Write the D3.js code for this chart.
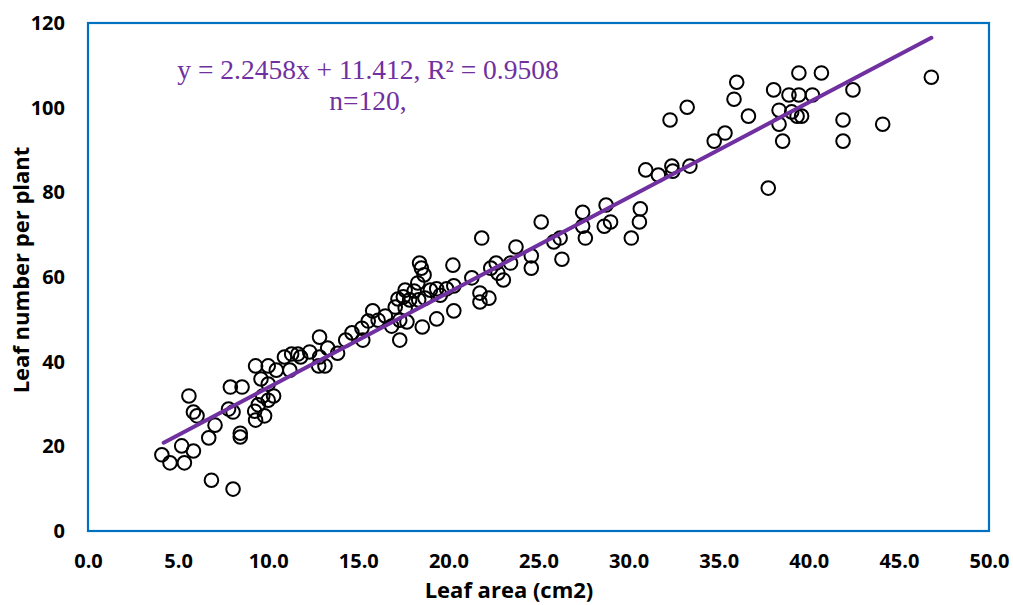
<!DOCTYPE html>
<html>
<head>
<meta charset="utf-8">
<script src="https://cdn.jsdelivr.net/npm/d3@7"></script>
<style>
  body { margin: 0; background: #fff; }
  .tick text { font-family: "Open Sans", sans-serif; font-weight: bold; font-size: 20px; fill: #000; }
</style>
</head>
<body>
<div id="chart"></div>
<script>
// leaf area (cm2) and leaf number per plant
var leafArea = [4.1, 4.55, 5.2, 5.35, 5.85, 5.6, 5.85, 6.05, 6.7, 7.05, 6.85, 8.05, 7.9, 8.55, 7.8, 8.05, 8.45, 8.45,
    9.3, 10.0, 9.25, 9.45, 9.3, 9.8, 9.6, 10.0, 9.7, 10.3, 10.0, 10.45, 10.9, 11.2, 11.3, 11.65, 11.8, 12.3,
    12.85, 12.85, 13.3, 12.8, 13.15, 13.85, 14.3, 14.65, 15.2, 15.55, 15.8, 15.25, 16.1, 16.5, 16.85, 17.05,
    17.3, 17.2, 17.5, 17.3, 17.6, 17.7, 17.85, 18.1, 17.6, 18.3, 18.4, 18.5, 18.65, 18.55, 18.35, 18.7, 19.0,
    19.35, 19.55, 19.35, 19.9, 20.25, 20.3, 20.3, 21.3, 21.85, 21.75, 21.75, 22.25, 22.35, 22.65, 22.75, 23.05,
    23.45, 23.75, 24.6, 24.6, 25.15, 25.85, 26.2, 26.3, 27.45, 27.45, 27.6, 28.65, 28.75, 29.0, 30.15, 30.6,
    30.65, 30.95, 31.65, 32.3, 32.4, 32.45, 33.25, 33.4, 34.75, 35.35, 35.85, 36.0, 36.65, 37.75, 38.05, 38.35,
    38.35, 38.55, 38.9, 39.05, 39.45, 39.45, 39.35, 39.6, 40.2, 40.7, 41.9, 41.9, 42.45, 44.1, 46.8];
var leafNumber = [18.0, 16.1, 20.1, 16.1, 18.9, 31.9, 28.1, 27.2, 22.0, 25.0, 12.0, 9.9, 34.0, 34.0, 28.8, 28.1, 23.1, 22.2,
    39.0, 39.0, 28.3, 29.8, 26.2, 27.2, 35.9, 34.7, 31.9, 31.9, 30.9, 38.0, 41.1, 38.0, 41.8, 41.8, 41.1, 42.3,
    41.1, 45.8, 43.2, 39.0, 39.0, 42.0, 45.1, 46.8, 47.9, 49.6, 52.0, 45.1, 49.8, 50.8, 48.4, 52.9,
    45.1, 54.8, 55.3, 49.8, 52.7, 49.4, 54.6, 56.7, 56.9, 58.6, 63.3, 62.1, 60.5, 48.2, 54.6, 55.0, 56.9,
    50.1, 55.7, 57.2, 57.2, 62.8, 52.0, 57.9, 59.8, 69.2, 56.2, 54.1, 55.0, 62.1, 63.3, 60.9, 59.3,
    63.3, 67.1, 65.0, 62.1, 73.0, 68.3, 69.2, 64.2, 75.3, 72.0, 69.2, 72.0, 77.0, 73.0, 69.2, 73.0,
    76.1, 85.3, 84.1, 97.1, 86.2, 85.0, 100.1, 86.2, 92.1, 94.0, 102.0, 106.0, 98.0, 81.0, 104.2, 99.4,
    96.1, 92.1, 103.0, 99.0, 108.2, 103.0, 98.0, 98.0, 103.0, 108.2, 97.1, 92.1, 104.2, 96.1, 107.2];

var xTicks = [0, 5, 10, 15, 20, 25, 30, 35, 40, 45, 50];
var yTicks = [0, 20, 40, 60, 80, 100, 120];

// trendline from the equation in the chart
var slope = 2.2458, intercept = 11.412;
var trendX = [4.2, 46.8];
var eqLines = ["y = 2.2458x + 11.412, R\u00B2 = 0.9508", "n=120,"];

const width = 1013, height = 605;
const margin = {top: 23, right: 24, bottom: 74, left: 88};

var x = d3.scaleLinear().domain([0, 50]).range([margin.left, width - margin.right]);
var y = d3.scaleLinear().domain([0, 120]).range([height - margin.bottom, margin.top]);

const svg = d3.select("#chart").append("svg")
    .attr("width", width)
    .attr("height", height);

// y axis labels
svg.append("g")
    .attr("transform", `translate(${margin.left},0)`)
    .call(d3.axisLeft(y).tickValues(yTicks).tickSize(0).tickPadding(23).tickFormat(d3.format("d")))
    .call(g => g.select(".domain").remove());

// x axis labels
svg.append("g")
    .attr("transform", `translate(0,${height - margin.bottom})`)
    .call(d3.axisBottom(x).tickValues(xTicks).tickSize(0).tickPadding(23).tickFormat(d3.format(".1f")))
    .call(g => g.select(".domain").remove());

// plot frame
svg.append("rect")
    .attr("x", x(0))
    .attr("y", y(120))
    .attr("width", x(50) - x(0))
    .attr("height", y(0) - y(120))
    .attr("fill", "none")
    .attr("stroke", "#0070C0")
    .attr("stroke-width", 2.2);

var pts = leafArea.map((d, i) => ({a: d, n: leafNumber[i]}));

svg.append("g")
    .selectAll("circle")
    .data(pts)
    .enter()
    .append("circle")
    .attr("cx", d => x(d.a))
    .attr("cy", d => y(d.n))
    .attr("r", 6.8)
    .attr("fill", "none")
    .attr("stroke", "#000")
    .attr("stroke-width", 2);

var line = d3.line().x(d => x(d)).y(d => y(slope * d + intercept));
svg.append("path")
    .datum(trendX)
    .attr("d", line)
    .attr("fill", "none")
    .attr("stroke", "#7030A0")
    .attr("stroke-width", 4)
    .attr("stroke-linecap", "round");

svg.selectAll("text.eq")
    .data(eqLines)
    .enter()
    .append("text")
    .attr("class", "eq")
    .attr("x", 368)
    .attr("y", (d, i) => 79 + i * 31)
    .attr("text-anchor", "middle")
    .attr("font-family", "'Liberation Serif', 'Times New Roman', serif")
    .attr("font-size", 27.5)
    .attr("fill", "#7030A0")
    .text(d => d);

// axis titles
svg.append("text")
    .attr("x", 509)
    .attr("y", 598)
    .attr("text-anchor", "middle")
    .attr("font-family", "'Open Sans', sans-serif")
    .attr("font-weight", "bold")
    .attr("font-size", 22)
    .text("Leaf area (cm2)");

svg.append("text")
    .attr("transform", "translate(29,270) rotate(-90)")
    .attr("text-anchor", "middle")
    .attr("font-family", "'Open Sans', sans-serif")
    .attr("font-weight", "bold")
    .attr("font-size", 22)
    .text("Leaf number per plant");
</script>
</body>
</html>
